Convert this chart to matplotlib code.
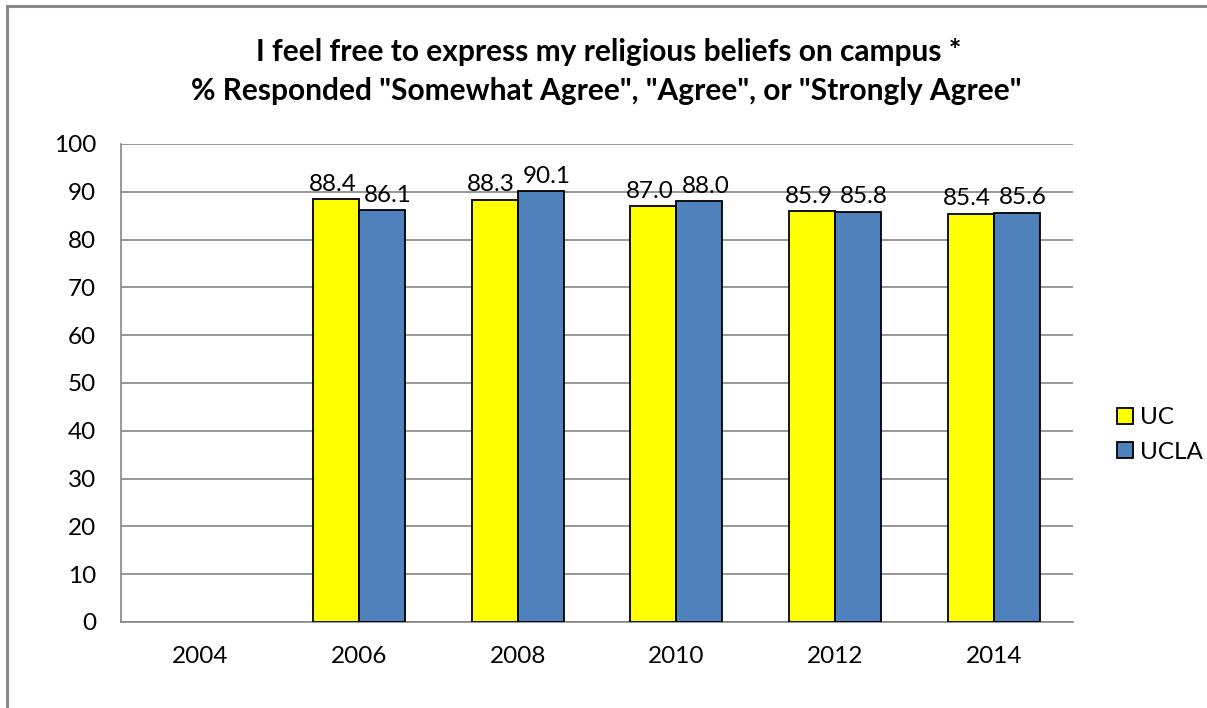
import matplotlib
matplotlib.use("Agg")
import matplotlib.pyplot as plt
import numpy as np
from matplotlib.lines import Line2D

years = ["2004", "2006", "2008", "2010", "2012", "2014"]
uc = [np.nan, 88.4, 88.3, 87.0, 85.9, 85.4]
ucla = [np.nan, 86.1, 90.1, 88.0, 85.8, 85.6]
series_names = ["UC", "UCLA"]
colors = ["#FFFF00", "#4F81BD"]
title_lines = ['I feel free to express my religious beliefs on campus *',
               '% Responded "Somewhat Agree", "Agree", or "Strongly Agree"']

plt.rcParams['font.family'] = ['Lato', 'DejaVu Sans']

W, H = 1207, 708
fig = plt.figure(figsize=(W/100, H/100), dpi=100)
ax = fig.add_axes([121/W, 1-622/H, (1073-121)/W, (622-144)/H])

x = np.arange(len(years))
bw = 0.29
label_shift = [-0.022, 0.038]
for i, (vals, name, c) in enumerate(zip([uc, ucla], series_names, colors)):
    off = (i - 0.5) * bw
    ax.bar(x + off, vals, bw, color=c, edgecolor="black", linewidth=1.3, label=name, zorder=3)
    for xi, v in zip(x, vals):
        if not np.isnan(v):
            ax.text(xi + off + label_shift[i], v + 1.8, f"{v:.1f}", ha="center", va="baseline",
                    fontsize=17.5, color="black")

ax.set_xlim(-0.5, len(years) - 0.5)
ax.set_ylim(0, 100)
ax.set_yticks(range(0, 101, 10))
ax.set_xticks(x)
ax.set_xticklabels(years)
ax.tick_params(axis="both", length=0, labelsize=17.5, colors="black")
ax.tick_params(axis="x", pad=17)
ax.tick_params(axis="y", pad=18)
ax.grid(axis="y", color="#868686", linewidth=1.2, zorder=0)
for s in ["top", "right"]:
    ax.spines[s].set_visible(False)
for s in ["left", "bottom"]:
    ax.spines[s].set_color("#868686")
    ax.spines[s].set_linewidth(1.2)

fig.text(609/W, 1-61/H, title_lines[0], ha="center", va="baseline", fontsize=21.5, fontweight="bold")
fig.text(606/W, 1-100/H, title_lines[1], ha="center", va="baseline", fontsize=21.5, fontweight="bold")

handles, labels = ax.get_legend_handles_labels()
fig.legend(handles, labels, loc="center left", bbox_to_anchor=(1100/W, 1-435/H),
           frameon=False, fontsize=17.5, handlelength=0.65, handleheight=0.65,
           handletextpad=0.3, labelspacing=0.55, borderpad=0.2)

# outer frame
fig.add_artist(Line2D([7/W, 7/W], [0, 1-6/H], transform=fig.transFigure, color="#898989", linewidth=2.2))
fig.add_artist(Line2D([7/W, 1], [1-6/H, 1-6/H], transform=fig.transFigure, color="#898989", linewidth=2.2))

fig.savefig("out.png", dpi=100)
